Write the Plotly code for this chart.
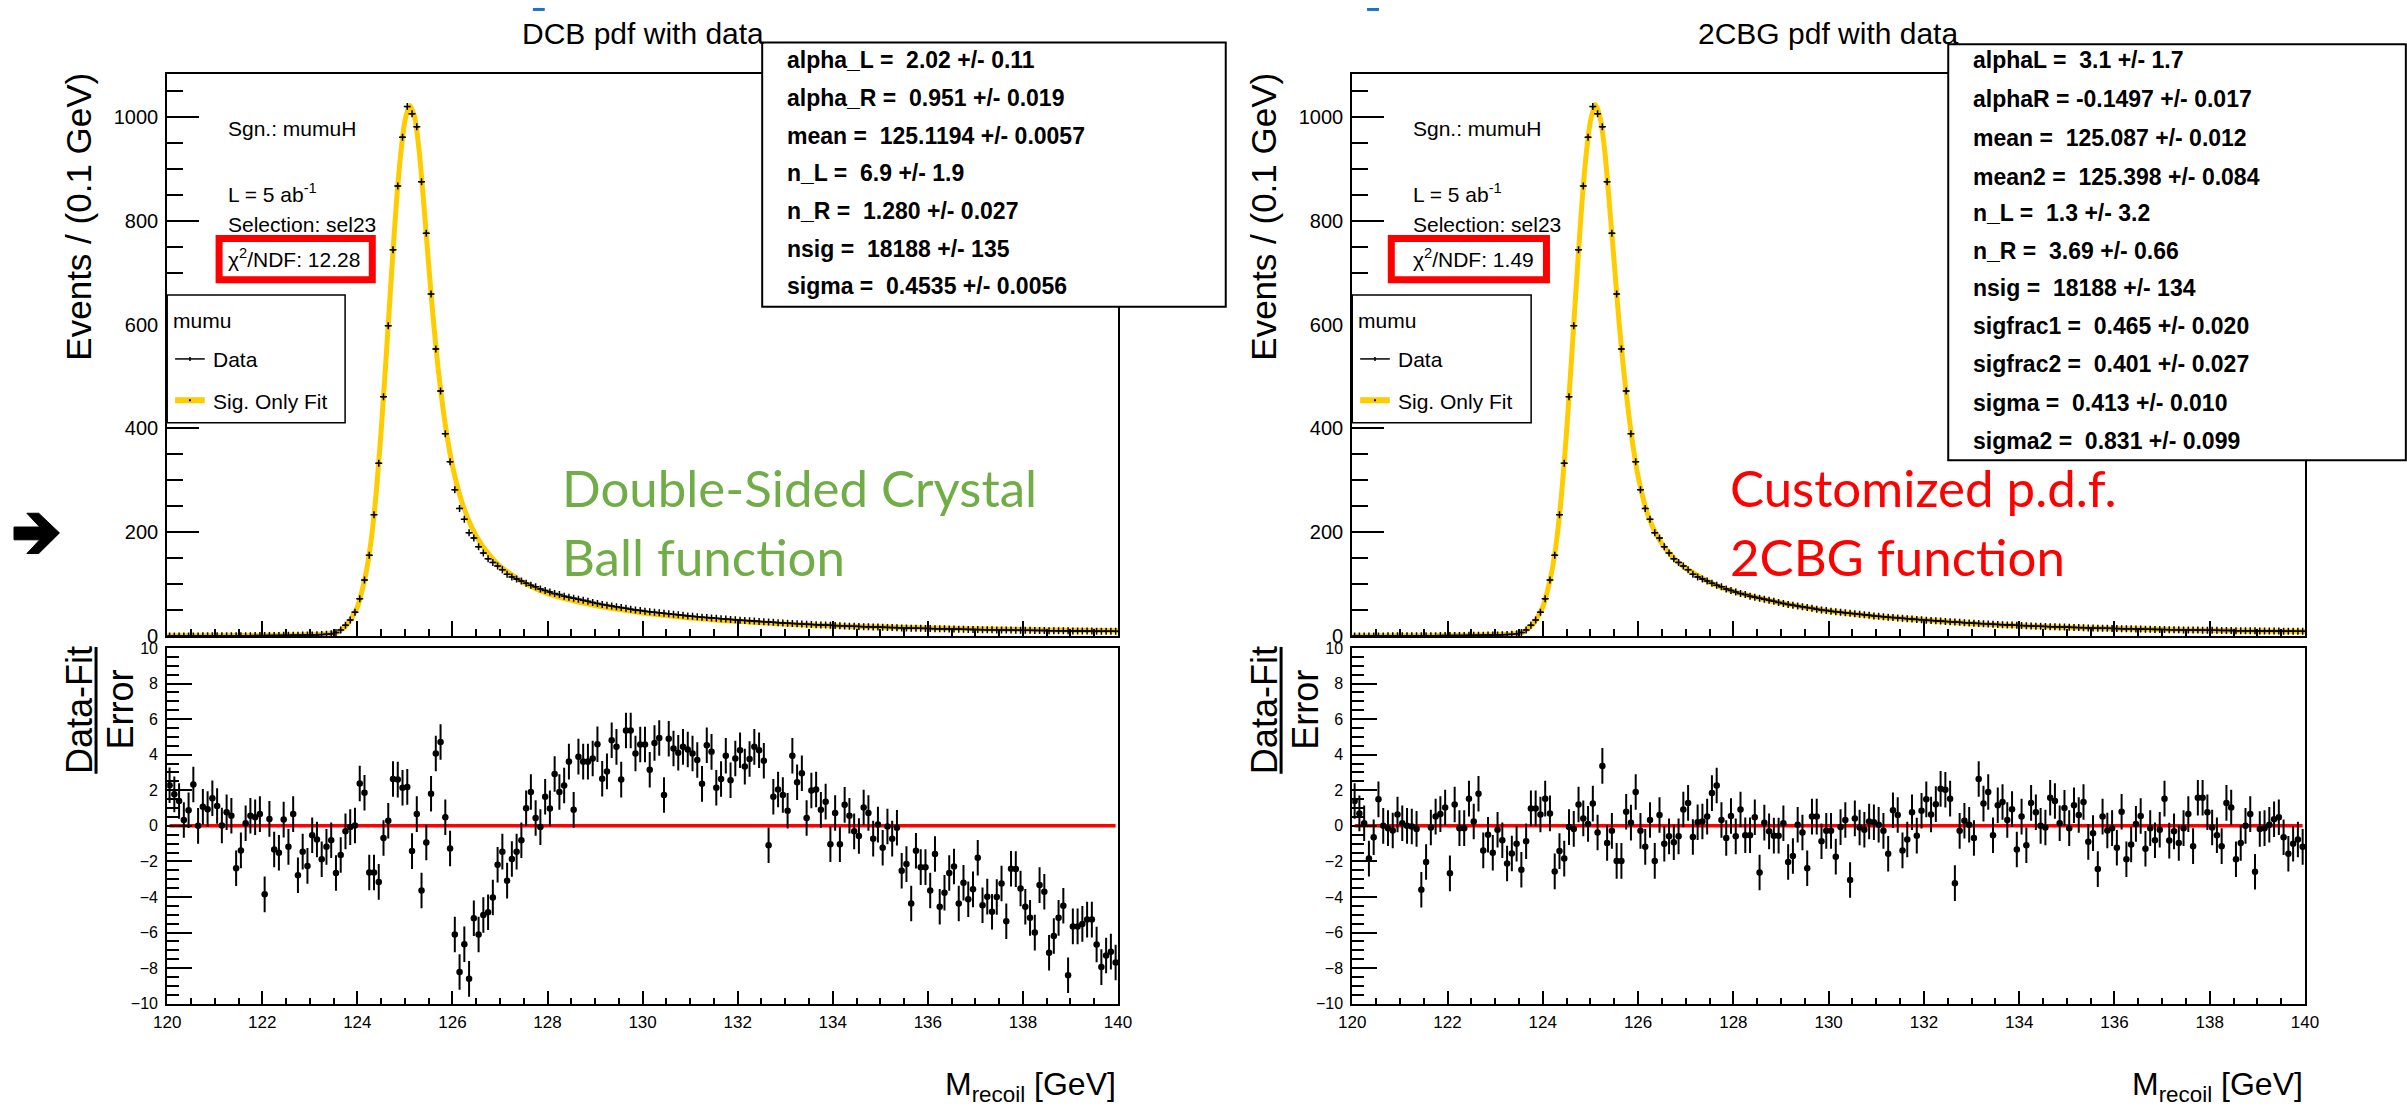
import plotly.graph_objects as go

W, H = 2407, 1117

# ---------------- data ----------------
bin_centers = [round(120.05 + 0.1 * i, 2) for i in range(200)]

events = [
    0.3, 0.3, 0.3, 0.4, 0.4, 0.4, 0.4, 0.5, 0.5, 0.5,
    0.6, 0.6, 0.7, 0.7, 0.8, 0.8, 0.9, 0.9, 1.0, 1.0,
    1.1, 1.2, 1.3, 1.4, 1.5, 1.6, 1.7, 1.8, 2.0, 2.1,
    2.3, 2.6, 3.0, 3.5, 4.5, 7, 12, 21, 31, 46,
    72, 108, 156, 234, 333, 461, 598, 744, 867, 961,
    1020, 1006, 981, 875, 776, 659, 553, 472, 390, 336,
    282, 246, 225, 199, 189, 172, 160, 149, 142, 135,
    128, 119, 114, 110, 106, 102, 98, 95, 91, 88,
    85, 82, 80, 77, 75, 73, 71, 69, 67, 65,
    63, 61, 59.5, 58, 56.5, 55, 53.5, 52, 50.5, 49.5,
    48, 47, 46, 45, 44, 43, 42, 41, 40, 39,
    38.2, 37.4, 36.6, 35.8, 35, 34.3, 33.6, 32.9, 32.2, 31.5,
    30.8, 30.2, 29.6, 29, 28.4, 27.8, 27.2, 26.6, 26, 25.5,
    25, 24.5, 24, 23.5, 23, 22.5, 22, 21.6, 21.2, 20.8,
    20.4, 20, 19.6, 19.2, 18.9, 18.6, 18.3, 18, 17.7, 17.4,
    17.1, 16.8, 16.5, 16.2, 15.9, 15.6, 15.4, 15.2, 15, 14.8,
    14.6, 14.4, 14.2, 14, 13.8, 13.6, 13.4, 13.2, 13, 12.8,
    12.6, 12.5, 12.3, 12.2, 12, 11.9, 11.7, 11.6, 11.4, 11.3,
    11.2, 11.1, 11, 10.9, 10.8, 10.6, 10.5, 10.4, 10.3, 10.2,
    10.1, 10, 9.9, 9.8, 9.7, 9.6, 9.5, 9.4, 9.3, 9.2,
]

fit_x = [120, 121, 122, 122.5, 123, 123.3, 123.6, 123.8, 124.0, 124.1,
         124.2, 124.3, 124.4, 124.5, 124.6, 124.7, 124.8, 124.9, 125.0, 125.1,
         125.2, 125.3, 125.4, 125.5, 125.6, 125.7, 125.8, 125.9, 126.0, 126.2,
         126.4, 126.6, 126.8, 127.0, 127.5, 128, 128.5, 129, 129.5, 130,
         131, 132, 133, 134, 135, 136, 137, 138, 139, 140]

fit_dcb = [0.5, 0.8, 1.3, 1.8, 2.6, 3.6, 8.5, 24, 56, 88,
           130, 192, 280, 395, 530, 672, 808, 918, 992, 1022,
           1002, 935, 830, 715, 607, 515, 440, 378, 328, 258,
           211, 178, 154, 135, 103, 82, 69, 59, 51, 44.5,
           35, 28.5, 23.5, 20, 17.5, 15.5, 13.8, 12.4, 11.2, 10.2]

fit_2cbg = [0.3, 0.6, 1.2, 1.8, 2.5, 3.5, 8, 24, 56, 88,
            130, 192, 280, 395, 530, 672, 808, 918, 992, 1024,
            1000, 935, 830, 718, 605, 510, 430, 362, 308, 235,
            193, 166, 146, 131, 104, 86, 74, 64, 55.5, 48.5,
            38, 31, 24.5, 20, 16.8, 14.5, 12.6, 11.2, 10, 9]

pull_dcb = [
    2.28, 1.77, 1.40, 0.33, 0.88, 2.32, 0.00, 1.07, 0.94, 1.55,
    1.12, 0.02, 0.76, 0.57, -2.38, -1.38, 0.15, 0.57, 0.48, 0.66,
    -3.85, 0.39, -1.33, -1.51, 0.35, -1.18, 0.66, -2.78, -1.45, -2.25,
    -0.53, -0.77, -1.88, -1.18, -0.81, -2.65, -1.64, -0.31, -0.07, 0.02,
    2.38, 1.86, -2.62, -2.62, -3.15, -0.68, 0.29, 2.63, 2.60, 2.14,
    2.19, -1.42, 0.66, -3.63, -0.94, 1.80, 4.07, 4.71, 0.48, -1.27,
    -6.11, -8.21, -6.65, -8.60, -5.19, -6.11, -5.01, -4.86, -4.03, -2.19,
    -1.45, -3.08, -1.86, -1.45, -0.81, 0.99, 1.90, 0.44, -0.07, 1.64,
    0.98, 2.91, 1.90, 2.27, 3.61, 0.90, 3.89, 3.61, 3.61, 3.79,
    4.59, 2.65, 3.06, 4.81, 4.44, 2.60, 5.36, 5.36, 4.07, 4.57,
    4.57, 3.15, 4.66, 4.94, 1.73, 4.90, 4.35, 4.11, 4.44, 4.29,
    4.07, 3.70, 2.36, 4.53, 4.16, 2.14, 2.63, 3.94, 2.56, 3.79,
    4.25, 3.33, 3.76, 4.44, 4.25, 3.66, -1.09, 1.64, 2.04, 1.73,
    0.85, 3.94, 2.45, 2.96, 0.44, 1.99, 2.04, 0.90, 1.36, -1.03,
    0.72, -1.03, 1.18, 0.57, -0.31, -0.57, 1.03, 0.72, -0.72, 0.07,
    -1.23, -0.04, -0.72, -0.11, -2.52, -2.15, -4.36, -1.40, -2.32, -2.32,
    -3.63, -1.58, -4.55, -3.76, -2.65, -2.28, -4.36, -3.20, -4.13, -3.57,
    -1.79, -4.46, -3.98, -4.83, -4.00, -3.24, -5.36, -2.41, -2.43, -3.52,
    -4.55, -5.17, -6.00, -3.33, -3.70, -7.13, -6.19, -5.17, -4.49, -8.40,
    -5.65, -5.65, -5.51, -5.27, -5.27, -6.67, -7.94, -7.29, -7.07, -7.68,
]

pull_2cbg = [
    1.40, 0.70, 0.15, -1.84, -0.64, 1.49, 0.00, -0.13, -0.26, 0.64,
    0.15, 0.00, -0.04, -0.17, -3.59, -2.03, -0.09, 0.52, 0.66, 1.03,
    -2.67, 1.20, -0.13, -0.13, 1.53, 0.24, 1.80, -1.38, -0.50, -1.51,
    -0.22, -0.81, -2.12, -1.55, -1.01, -2.47, -0.87, 0.98, 0.98, 0.64,
    1.53, 0.70, -2.56, -1.42, -1.84, -0.07, -0.17, 1.20, 0.42, 0.11,
    1.25, -0.37, 3.37, -0.96, -0.28, -1.97, -1.97, 0.79, 0.18, 1.90,
    -0.28, -1.18, 0.33, -1.97, 0.61, -1.01, -0.59, -0.92, -0.59, 0.92,
    1.29, -0.63, 0.20, 0.24, 0.52, 1.84, 2.27, 0.33, -0.68, 0.55,
    -0.59, 0.92, -0.53, -0.53, 0.48, -2.62, 0.18, -0.31, -0.55, -0.55,
    0.15, -2.03, -1.69, 0.06, -0.37, -2.38, 0.52, 0.52, -0.87, -0.28,
    -0.28, -1.73, -0.07, 0.33, -3.04, 0.42, -0.09, -0.22, 0.24, 0.20,
    0.06, -0.28, -1.57, 0.88, 0.61, -1.38, -0.77, 0.76, -0.55, 0.85,
    1.49, 0.64, 1.22, 2.08, 2.03, 1.53, -3.22, -0.28, 0.29, 0.06,
    -0.68, 2.63, 1.25, 1.90, -0.53, 1.16, 1.34, 0.33, 0.94, -1.33,
    0.52, -1.09, 1.29, 0.76, 0.00, -0.09, 1.58, 1.40, 0.15, 1.01,
    -0.13, 1.16, 0.61, 1.34, -0.90, -0.41, -2.43, 0.52, -0.26, -0.13,
    -1.23, 0.79, -1.88, -1.05, 0.11, 0.55, -1.29, -0.13, -0.81, -0.22,
    1.53, -0.83, -0.31, -0.96, -0.13, 0.66, -1.14, 1.58, 1.58, 0.76,
    -0.09, -0.53, -1.14, 1.29, 1.03, -1.88, -0.96, 0.00, 0.66, -2.58,
    -0.18, -0.13, 0.06, 0.37, 0.48, -0.64, -1.57, -1.01, -0.77, -1.18,
]

titles = ["DCB pdf with data", "2CBG pdf with data"]
chi2_labels = ["\u03c7<sup>2</sup>/NDF: 12.28", "\u03c7<sup>2</sup>/NDF: 1.49"]
info_labels = ["Sgn.: mumuH", "L = 5 ab<sup>-1</sup>", "Selection: sel23"]
legend_labels = ["mumu", "Data", "Sig. Only Fit"]

stats_dcb = [
    "alpha_L =  2.02 +/- 0.11",
    "alpha_R =  0.951 +/- 0.019",
    "mean =  125.1194 +/- 0.0057",
    "n_L =  6.9 +/- 1.9",
    "n_R =  1.280 +/- 0.027",
    "nsig =  18188 +/- 135",
    "sigma =  0.4535 +/- 0.0056",
]
stats_2cbg = [
    "alphaL =  3.1 +/- 1.7",
    "alphaR = -0.1497 +/- 0.017",
    "mean =  125.087 +/- 0.012",
    "mean2 =  125.398 +/- 0.084",
    "n_L =  1.3 +/- 3.2",
    "n_R =  3.69 +/- 0.66",
    "nsig =  18188 +/- 134",
    "sigfrac1 =  0.465 +/- 0.020",
    "sigfrac2 =  0.401 +/- 0.027",
    "sigma =  0.413 +/- 0.010",
    "sigma2 =  0.831 +/- 0.099",
]
big_labels = [["Double-Sided Crystal", "Ball function"], ["Customized p.d.f.", "2CBG function"]]
big_colors = ["#70AD47", "#FF0000"]

# ---------------- helpers ----------------
def px(x):
    return x / W


def py(y):
    return 1 - y / H


FONT = "Liberation Sans, Arial, Helvetica, sans-serif"
YELLOW = "#FFCC00"

fig = go.Figure()

panels = [
    dict(L=155, R=1117, fit=fit_dcb, pull=pull_dcb, ax=("x", "y", "x2", "y2")),
    dict(L=1354, R=2318, fit=fit_2cbg, pull=pull_2cbg, ax=("x3", "y3", "x4", "y4")),
]

layout = dict(
    width=W, height=H, margin=dict(l=0, r=0, t=0, b=0),
    paper_bgcolor="white", plot_bgcolor="white", showlegend=False,
    font=dict(family=FONT, color="black"),
)

top_dom = [py(639), py(67)]
res_dom = [py(1013), py(651)]

shapes = []
annotations = []


def note(x, y, text, size, anchor="left", angle=0, color="black", family=FONT):
    annotations.append(dict(x=px(x), y=py(y), xref="paper", yref="paper", text=text,
                            showarrow=False, xanchor=anchor, yanchor="middle",
                            textangle=angle, font=dict(size=size, family=family, color=color)))


for k, p in enumerate(panels):
    xa, ya, xb, yb = p["ax"]
    # top plot
    fig.add_trace(go.Scatter(x=fit_x, y=p["fit"], mode="lines",
                             line=dict(color=YELLOW, width=5, shape="spline", smoothing=0.6),
                             xaxis=xa, yaxis=ya, hoverinfo="skip"))
    fig.add_trace(go.Scatter(x=bin_centers, y=events, mode="markers",
                             marker=dict(symbol="cross-thin", size=5, color="black",
                                         line=dict(width=1.5, color="black")),
                             error_x=dict(type="constant", value=0.05, width=0, thickness=1.3, color="black"),
                             xaxis=xa, yaxis=ya))
    # residual plot
    fig.add_trace(go.Scatter(x=[120.05, 139.95], y=[0, 0], mode="lines",
                             line=dict(color="#FF0000", width=3.5), xaxis=xb, yaxis=yb))
    fig.add_trace(go.Scatter(x=bin_centers, y=p["pull"], mode="markers",
                             marker=dict(size=6.5, color="black"),
                             error_y=dict(type="constant", value=1, width=0, thickness=2, color="black"),
                             xaxis=xb, yaxis=yb))

    xdom = [px(p["L"]), px(p["R"])]
    n = "" if k == 0 else "3"
    m = "2" if k == 0 else "4"
    common = dict(showline=True, mirror=True, linecolor="black", linewidth=2,
                  showgrid=False, zeroline=False, ticks="inside", tickcolor="black")
    layout["xaxis" + n] = dict(domain=xdom, range=[120, 140], anchor=ya, dtick=2, tick0=120,
                               ticklen=15, tickwidth=2, showticklabels=False,
                               minor=dict(ticks="inside", dtick=0.5, ticklen=7, tickwidth=1.5, tickcolor="black"),
                               **common)
    layout["yaxis" + n] = dict(domain=top_dom, range=[0, 1083], anchor=xa, dtick=200, tick0=0,
                               ticklen=32, tickwidth=2, tickfont=dict(size=20),
                               ticklabelstandoff=3,
                               minor=dict(ticks="inside", dtick=50, ticklen=16, tickwidth=1.5, tickcolor="black"),
                               **common)
    layout["xaxis" + m] = dict(domain=xdom, range=[120, 140], anchor=yb, dtick=2, tick0=120,
                               ticklen=13, tickwidth=2, tickfont=dict(size=17),
                               ticklabelstandoff=2,
                               minor=dict(ticks="inside", dtick=0.5, ticklen=6, tickwidth=1.5, tickcolor="black"),
                               **common)
    layout["yaxis" + m] = dict(domain=res_dom, range=[-10, 10], anchor=xb, dtick=2, tick0=0,
                               ticklen=25, tickwidth=2, tickfont=dict(size=16),
                               ticklabelstandoff=4,
                               minor=dict(ticks="inside", dtick=0.5, ticklen=12, tickwidth=1.5, tickcolor="black"),
                               **common)

    L, R = p["L"], p["R"]
    # title
    note(636 if k == 0 else 1835, 26, titles[k], 30, anchor="center")
    # y title
    note(L - 90, 212, "Events / (0.1 GeV)", 35, anchor="center", angle=-90)
    # residual y title (fraction)
    note(L - 88, 714, "Data-Fit", 36, anchor="center", angle=-90)
    note(L - 47, 714, "Error", 36, anchor="center", angle=-90)
    shapes.append(dict(type="line", xref="paper", yref="paper",
                       x0=px(L - 72), x1=px(L - 72), y0=py(650), y1=py(779),
                       line=dict(color="black", width=3)))
    # x title
    note(R, 1097, "M<sub>recoil</sub> [GeV]", 32, anchor="right")
    # info texts
    for txt, yy in zip(info_labels, [123, 188, 220]):
        note(L + 59, yy, txt, 21)
    note(L + 59, 254, chi2_labels[k], 21)
    if k == 0:
        bx0, bx1 = 204, 366
    else:
        bx0, bx1 = 1390, 1554
    shapes.append(dict(type="rect", xref="paper", yref="paper",
                       x0=px(bx0 + 3.5), x1=px(bx1 - 3.5), y0=py(234.5), y1=py(276.5),
                       line=dict(color="#FF0000", width=7), layer="above"))
    # legend box
    lx1 = 335 if k == 0 else 1535
    shapes.append(dict(type="rect", xref="paper", yref="paper",
                       x0=px(L), x1=px(lx1), y0=py(292), y1=py(422),
                       line=dict(color="black", width=1.5), fillcolor="white", layer="above"))
    note(L + 4, 318, legend_labels[0], 21)
    shapes.append(dict(type="line", xref="paper", yref="paper",
                       x0=px(L + 8), x1=px(L + 38), y0=py(357), y1=py(357),
                       line=dict(color="black", width=1.5), layer="above"))
    shapes.append(dict(type="line", xref="paper", yref="paper",
                       x0=px(L + 23), x1=px(L + 23), y0=py(355), y1=py(359),
                       line=dict(color="black", width=1.5), layer="above"))
    note(L + 44, 358, legend_labels[1], 21)
    shapes.append(dict(type="line", xref="paper", yref="paper",
                       x0=px(L + 8), x1=px(L + 38), y0=py(399), y1=py(399),
                       line=dict(color=YELLOW, width=6), layer="above"))
    shapes.append(dict(type="rect", xref="paper", yref="paper",
                       x0=px(L + 22), x1=px(L + 24), y0=py(398), y1=py(400),
                       line=dict(color="black", width=0), fillcolor="black", layer="above"))
    note(L + 44, 400, legend_labels[2], 21)
    # stats box
    if k == 0:
        sx0, sx1, sy0, sy1, tx = 757, 1226, 35, 304, 780
        lines = stats_dcb
        ys = [53, 92, 130, 168, 207, 245, 283]
    else:
        sx0, sx1, sy0, sy1, tx = 1957, 2420, 37, 460, 1980
        lines = stats_2cbg
        ys = [53, 93, 132, 172, 209, 247, 285, 323, 362, 402, 440]
    shapes.append(dict(type="rect", xref="paper", yref="paper",
                       x0=px(sx0), x1=px(sx1), y0=py(sy0), y1=py(sy1),
                       line=dict(color="black", width=2), fillcolor="white", layer="above"))
    for txt, yy in zip(lines, ys):
        note(tx, yy, "<b>" + txt.replace("  ", " \u00a0") + "</b>", 23)
    # big coloured labels
    gx = 552 if k == 0 else 1734
    for txt, yy in zip(big_labels[k], [488, 558]):
        note(gx, yy, txt, 51, color=big_colors[k], family="Lato, Carlito, Open Sans, sans-serif")

# left edge arrow fragment
shapes.append(dict(type="path", xref="paper", yref="paper",
                   path=f"M {px(0)},{py(528)} L {px(26)},{py(528)} L {px(13)},{py(514)} L {px(25)},{py(514)} "
                        f"L {px(46)},{py(534)} L {px(25)},{py(555)} L {px(13)},{py(555)} L {px(26)},{py(541)} "
                        f"L {px(0)},{py(541)} Z",
                   fillcolor="black", line=dict(color="black", width=1), layer="above"))
# tiny blue fragments at the top edge
for bx in (525, 1369):
    shapes.append(dict(type="rect", xref="paper", yref="paper",
                       x0=px(bx), x1=px(bx + 12), y0=py(3), y1=py(0),
                       line=dict(width=0), fillcolor="#1A73C9", layer="above"))

layout["shapes"] = shapes
layout["annotations"] = annotations
fig.update_layout(**layout)

fig.write_html("out.html",
               config={"displayModeBar": False},
               post_script="document.body.style.margin='0px';document.body.style.overflow='hidden';")
